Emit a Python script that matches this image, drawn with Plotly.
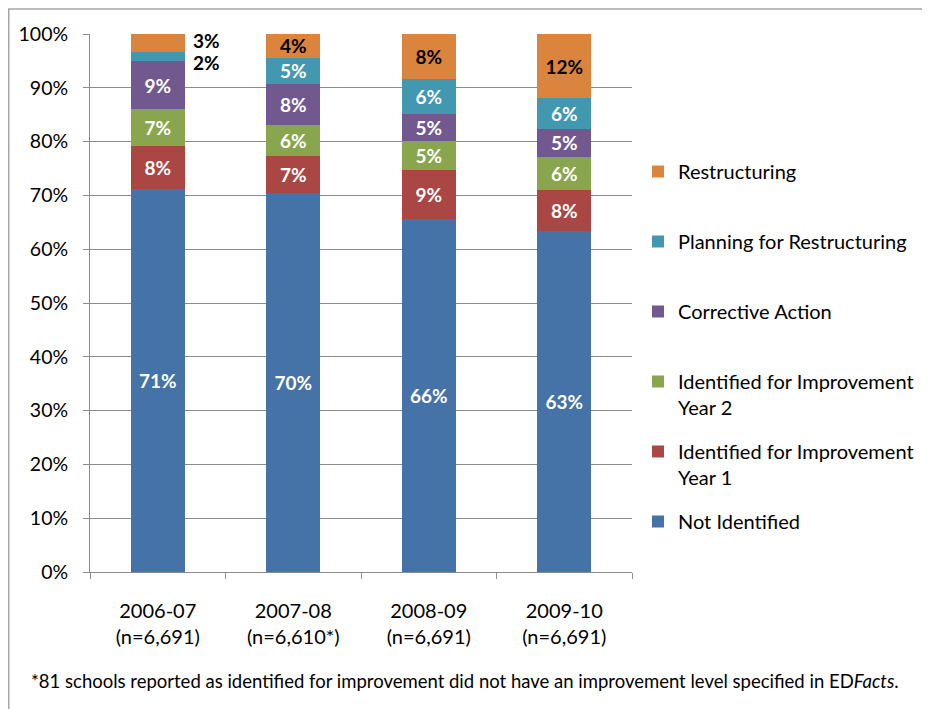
import plotly.graph_objects as go

years = ["2006-07<br>(n=6,691)", "2007-08<br>(n=6,610*)", "2008-09<br>(n=6,691)", "2009-10<br>(n=6,691)"]

not_identified = [71.1, 70.5, 65.7, 63.4]
improvement_y1 = [8.1, 6.8, 9.0, 7.6]
improvement_y2 = [6.8, 5.8, 5.4, 6.2]
corrective_action = [9.0, 7.6, 5.1, 5.1]
planning_restructuring = [1.7, 4.9, 6.4, 5.8]
restructuring = [3.3, 4.4, 8.4, 11.9]

series_names = [
    "Not Identified",
    "Identified for Improvement<br>Year 1",
    "Identified for Improvement<br>Year 2",
    "Corrective Action",
    "Planning for Restructuring",
    "Restructuring",
]
series_values = [not_identified, improvement_y1, improvement_y2,
                 corrective_action, planning_restructuring, restructuring]
colors = ["#4572A7", "#AA4643", "#89A54E", "#71588F", "#4198AF", "#DB843D"]
label_colors = ["white", "white", "white", "white", "white", "black"]

footnote = "*81 schools reported as identified for improvement did not have an improvement level specified in ED<i>Facts</i>."

FONT = "Lato"
# the page adds an 8px body margin; layout numbers below compensate for it
L, R, T, B = 82, 306, 26, 144.5
PW, PH = 930 - L - R, 709 - T - B

fig = go.Figure()

for i, (name, vals) in enumerate(zip(series_names, series_values)):
    texts = []
    for j, v in enumerate(vals):
        if j == 0 and i >= 4:
            texts.append("")
        else:
            texts.append(f"{v:.0f}%")
    legend_name = name if "<br>" in name else name + "<br> "
    fig.add_trace(go.Bar(
        x=years, y=vals, name=legend_name,
        marker=dict(color=colors[i], line=dict(width=0)),
        text=texts, textposition="inside", insidetextanchor="middle",
        textangle=0, constraintext="none",
        textfont=dict(family=FONT, size=19, color=label_colors[i], weight="bold"),
        legendgroup=str(i), legendrank=len(series_names) - i,
        hoverinfo="skip",
    ))

# outside labels for the small top segments of the first bar
base = sum(v[0] for v in series_values[:4])
mid_plan = base + planning_restructuring[0] / 2
mid_rest = base + planning_restructuring[0] + restructuring[0] / 2
fig.add_annotation(x=years[0], y=mid_rest, text=f"<b>{restructuring[0]:.0f}%</b>",
                   showarrow=False, xanchor="left", xshift=33, yshift=2,
                   font=dict(family=FONT, size=19, color="black"))
fig.add_annotation(x=years[0], y=mid_plan, text=f"<b>{planning_restructuring[0]:.0f}%</b>",
                   showarrow=False, xanchor="left", xshift=33, yshift=-6,
                   font=dict(family=FONT, size=19, color="black"))

fig.add_annotation(xref="paper", yref="paper", x=(21 - L) / PW, y=(709 - B - 674) / PH,
                   xanchor="left", yanchor="middle", text=footnote, showarrow=False,
                   font=dict(family=FONT, size=18.5, color="black"))

# outer frame
fig.add_shape(type="rect", xref="paper", yref="paper",
              x0=(0.75 - L) / PW, x1=1.2 + R / PW, y0=-0.4, y1=1 + (T - 1) / PH,
              line=dict(color="#a6a6a6", width=1.5), layer="below")

fig.update_layout(
    width=930, height=709,
    margin=dict(l=L, r=R, t=T, b=B, autoexpand=False),
    barmode="stack", bargap=0.6,
    plot_bgcolor="white", paper_bgcolor="white",
    font=dict(family=FONT, size=20, color="black"),
    showlegend=True,
    legend=dict(
        xref="container", yref="container",
        x=630 / 930, xanchor="left", y=1 - 144 / 709, yanchor="top",
        traceorder="grouped", tracegroupgap=15, maxheight=650,
        valign="top",
        font=dict(family=FONT, size=20, color="black"),
        bgcolor="rgba(0,0,0,0)",
    ),
)
fig.update_yaxes(
    range=[0, 100], dtick=10, ticksuffix="%",
    showgrid=True, gridcolor="#8c8c8c", gridwidth=1,
    showline=True, linecolor="#8c8c8c", linewidth=1,
    ticks="outside", ticklen=6, tickcolor="#8c8c8c",
    ticklabelstandoff=11, zeroline=False, automargin=False,
    tickfont=dict(family=FONT, size=19.5),
)
fig.update_xaxes(
    showline=True, linecolor="#8c8c8c", linewidth=1,
    ticks="outside", ticklen=6, tickcolor="#8c8c8c", tickson="boundaries",
    ticklabelstandoff=21, automargin=False,
    tickfont=dict(family=FONT, size=20),
)

fig.write_html("out.html")
